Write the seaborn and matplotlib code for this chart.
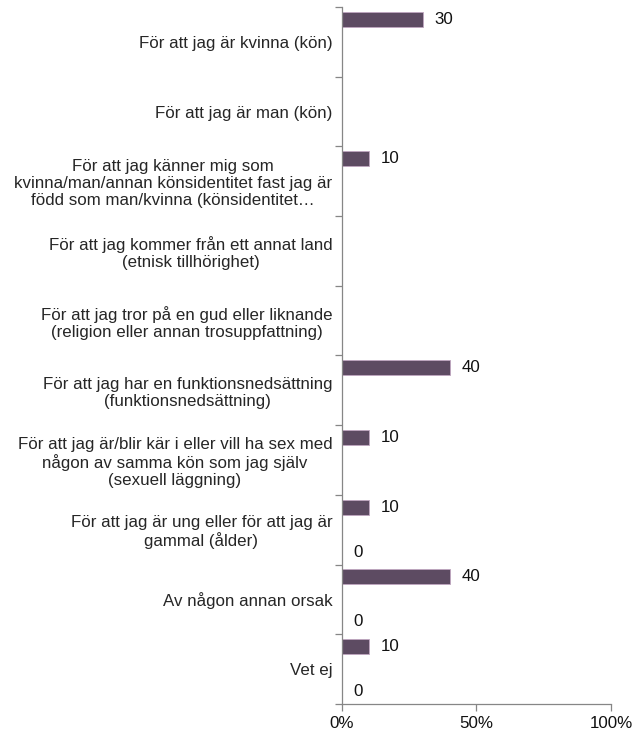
import numpy as np
import pandas as pd
import matplotlib
matplotlib.use("Agg")
import matplotlib.pyplot as plt
import seaborn as sns

# categories (top to bottom) and values in %
categories = [
    "För att jag är kvinna (kön)",
    "För att jag är man (kön)",
    "För att jag känner mig som\nkvinna/man/annan könsidentitet fast jag är\nfödd som man/kvinna (könsidentitet…",
    "För att jag kommer från ett annat land\n(etnisk tillhörighet)",
    "För att jag tror på en gud eller liknande\n(religion eller annan trosuppfattning)",
    "För att jag har en funktionsnedsättning\n(funktionsnedsättning)",
    "För att jag är/blir kär i eller vill ha sex med\nnågon av samma kön som jag själv\n(sexuell läggning)",
    "För att jag är ung eller för att jag är\ngammal (ålder)",
    "Av någon annan orsak",
    "Vet ej",
]
series_names = ["Serie 1", "Serie 2", "Serie 3", "Serie 4"]
serie1 = [30, np.nan, 10, np.nan, np.nan, 40, 10, 10, 40, 10]
serie2 = [np.nan] * 10
serie3 = [np.nan] * 10
serie4 = [np.nan, np.nan, np.nan, np.nan, np.nan, np.nan, np.nan, 0, 0, 0]
x_ticks = [0, 50, 100]
x_ticklabels = ["0%", "50%", "100%"]

BAR_COLOR = "#5f4766"
GREY = "#868686"
FS = 12.2

rows = []
for name, vals in zip(series_names, [serie1, serie2, serie3, serie4]):
    for cat, v in zip(categories, vals):
        rows.append({"category": cat, "series": name, "value": v})
df = pd.DataFrame(rows)

sns.set_style("white")
plt.rcParams["font.family"] = ["Liberation Sans", "DejaVu Sans"]
plt.rcParams["font.size"] = FS

fig = plt.figure(figsize=(6.34, 7.33), dpi=100)
ax = fig.add_axes([0.5394, 0.0396, 0.9637 - 0.5394, 0.9905 - 0.0396])

sns.barplot(
    data=df.dropna(), x="value", y="category", hue="series",
    order=categories, hue_order=series_names,
    palette=[BAR_COLOR] * 4, width=0.86, orient="h",
    edgecolor="#c0a6c0", linewidth=0.6, legend=False, ax=ax,
)

for cont in ax.containers:
    ax.bar_label(cont, fmt="%g", padding=8.5, fontsize=FS, color="#111111")

ax.set_xlim(0, 100)
ax.set_ylim(len(categories) - 0.5, -0.5)
ax.set_xticks(x_ticks)
ax.set_xticklabels(x_ticklabels)
ax.set_xlabel("")
ax.set_ylabel("")

# ticks at category boundaries, labels at band centres
ax.set_yticks(np.arange(len(categories) + 1) - 0.5)
ax.set_yticklabels([])
ax.set_yticks(np.arange(len(categories)), minor=True)
ax.set_yticklabels(categories, minor=True, multialignment="center", linespacing=1.15)
ax.tick_params(axis="y", which="minor", left=False, length=0, pad=7)
ax.tick_params(axis="y", which="major", left=True, length=5, color=GREY, width=0.9, direction="out")
ax.tick_params(axis="x", which="major", bottom=True, length=5, color=GREY, width=0.9, direction="out", pad=4)
ax.tick_params(labelsize=FS, labelcolor="#111111")

for side in ["top", "right"]:
    ax.spines[side].set_visible(False)
for side in ["left", "bottom"]:
    ax.spines[side].set_color(GREY)
    ax.spines[side].set_linewidth(0.9)

fig.savefig("out.png", dpi=100)
